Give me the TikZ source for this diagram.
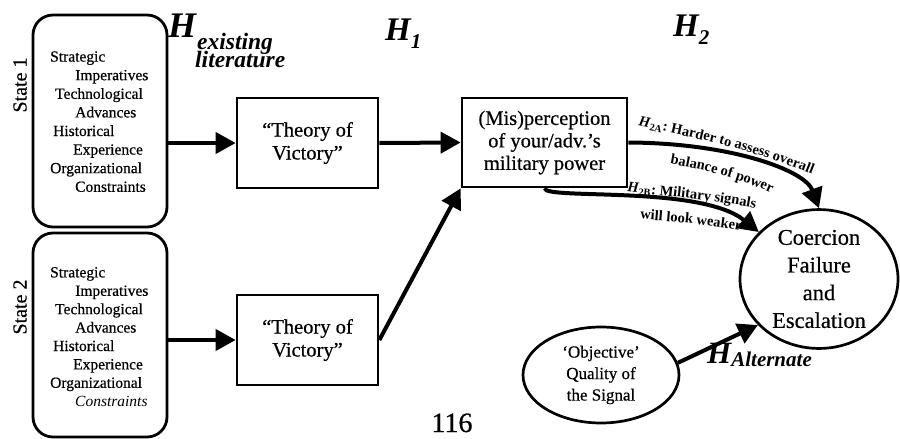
\documentclass[tikz,border=0pt]{standalone}
\usepackage{fontspec}
\setmainfont{Liberation Serif}[UprightFeatures={FakeBold=0.5}]
\usetikzlibrary{arrows.meta,shapes.geometric,decorations.text}

\newcommand\setfs[2]{\fontsize{#1}{#2}\selectfont}

\tikzset{
  stbox/.style={draw, rounded corners=20pt, line width=2.8pt,
    minimum width=134pt, inner sep=0pt},
  rectbox/.style={draw, line width=2.7pt, align=center, inner sep=0pt,
    font=\setfs{20.5}{23}},
  oval/.style={draw, ellipse, line width=2.7pt, align=center, inner sep=0pt},
  listtxt/.style={font=\setfs{15.5}{18}, inner sep=0pt, anchor=base west},
  statelbl/.style={font=\setfs{20}{20}, rotate=90, inner sep=0pt},
  hyp/.style={font=\bfseries\itshape, inner sep=0pt, anchor=base west},
  arr/.style={line width=4pt, -{Triangle[length=20pt,width=21pt]}},
  curvetxt/.style={decorate, decoration={text along path, text align=left,
    text={#1}}}
}

\begin{document}
\begin{tikzpicture}[x=1pt,y=-1pt]
\useasboundingbox (0,0) rectangle (900,439);

% the two state boxes with their sources of doctrine
\node[stbox, minimum height=212pt] (st1) at (100,121) {};
\node[stbox, minimum height=204pt] (st2) at (100,335) {};
\node[statelbl] (lbl1) at (20,85) {State 1};
\node[statelbl] (lbl2) at (20,307) {State 2};

\foreach[count=\i] \dx/\t in {50/Strategic, 75/Imperatives, 55/Technological,
    75/Advances, 53/Historical, 73/Experience, 50/Organizational, 75/Constraints}
  \node[listtxt] (la\i) at (\dx, 43+18.6*\i) {\t};
\foreach[count=\i] \dx/\t in {50/Strategic, 75/Imperatives, 55/Technological,
    75/Advances, 53/Historical, 73/Experience, 50/Organizational}
  \node[listtxt] (lb\i) at (\dx, 259+18.4*\i) {\t};
\node[listtxt, font=\setfs{15.5}{18}\itshape] (lb8) at (75, 406.2) {Constraints};

% theories of victory and the perception box
\node[rectbox, minimum width=141pt, minimum height=90pt] (b1) at (307.5,143)
  {“Theory of\\Victory”};
\node[rectbox, minimum width=141pt, minimum height=90pt] (b2) at (307.5,340)
  {“Theory of\\Victory”};
\node[rectbox, minimum width=165pt, minimum height=89pt, font=\setfs{20.5}{22.5}]
  (mis) at (544.5,142.5) {(Mis)perception\\of your/adv.’s\\military power};

% outcome and the alternative explanation
\node[oval, minimum width=158pt, minimum height=122pt, font=\setfs{22.5}{27.7}]
  (co) at (819,279) {Coercion\\Failure\\and\\Escalation};
\node[oval, minimum width=156pt, minimum height=96pt, font=\setfs{17}{21.5}]
  (obj) at (601,375) {‘Objective’\\Quality of\\the Signal};

% hypothesis labels
\node[hyp, font=\setfs{36}{36}\bfseries\itshape] (hex) at (168,37) {H};
\node[hyp, font=\setfs{23.5}{23.5}\bfseries\itshape] (hexa) at (197,49) {existing};
\node[hyp, font=\setfs{23.5}{23.5}\bfseries\itshape] (hexb) at (195,67) {literature};
\node[hyp] (h1) at (385,40)
  {\setfs{33}{33}H\raisebox{-8pt}{\setfs{21}{21}1}};
\node[hyp] (h2) at (673,36)
  {\setfs{33}{33}H\raisebox{-8pt}{\setfs{21}{21}2}};
\node[hyp] (halt) at (707,363)
  {\setfs{31}{31}H\raisebox{-3pt}{\setfs{21}{21}Alternate}};

\node[inner sep=0pt, anchor=base, text depth=0pt, font=\setfs{28}{28}] (pg)
  at (452,432) {116};

% causal arrows
\draw[arr] (st1.east |- b1.west) -- (b1.west);
\draw[arr] (st2.east |- b2.west) -- (b2.west);
\draw[arr] (b1.east) -- (mis.west);
\draw[arr] (b2.east) -- (mis.south west);
\draw[arr] (mis.east) .. controls (730,143) and (805,170) .. (co.north);
\draw[arr] (mis.south) .. controls (546,200) and (700,185) .. (co.142);
\draw[arr] (obj.9) -- (co.217);

% curved captions of the two H2 mechanisms
\path[curvetxt={|\setfs{14.5}{14.5}\bfseries|{\textit{H}\textsubscript{2A}}: Harder to assess overall}]
  (638,126) .. controls (700,138) and (770,155) .. (826,180);
\path[curvetxt={|\setfs{14.5}{14.5}\bfseries|balance of power}]
  (670,164) .. controls (705,170) and (740,178) .. (778,196);
\path[curvetxt={|\setfs{14.5}{14.5}\bfseries|{\textit{H}\textsubscript{2B}}: Military signals}]
  (627,192) .. controls (670,196) and (720,201) .. (766,210);
\path[curvetxt={|\setfs{14.5}{14.5}\bfseries|will look weaker}]
  (640,219) .. controls (680,222) and (720,226) .. (762,234);
\end{tikzpicture}
\end{document}
